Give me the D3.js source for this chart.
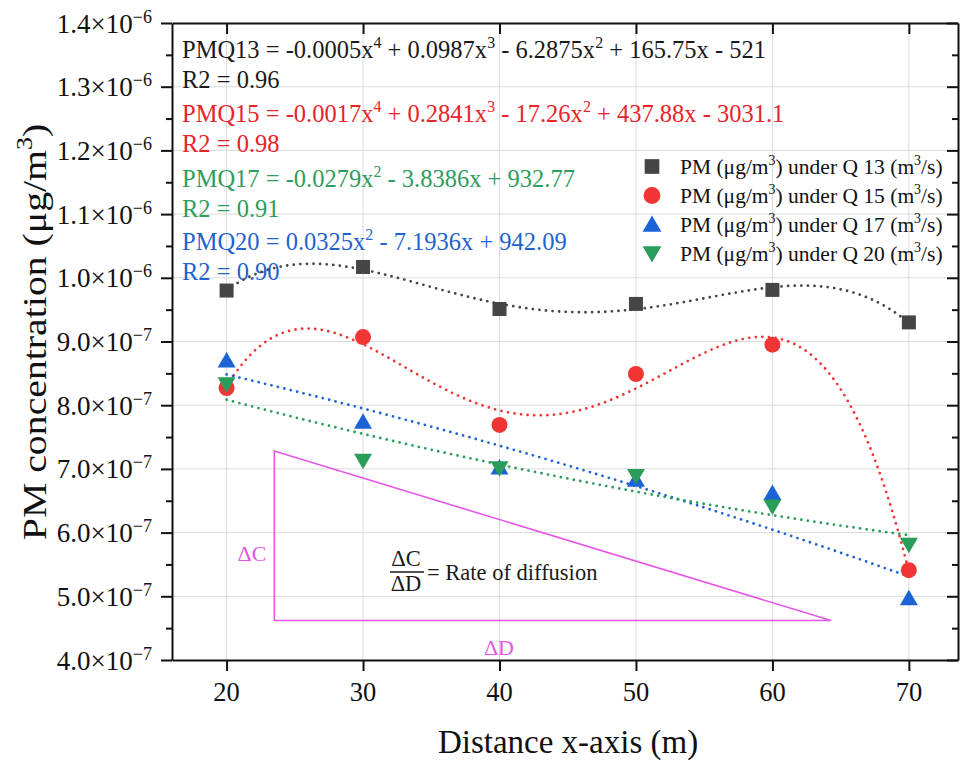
<!DOCTYPE html>
<html>
<head>
<meta charset="utf-8">
<script src="https://cdn.jsdelivr.net/npm/d3@7"></script>
<style>
  html, body { margin: 0; padding: 0; background: #ffffff; }
  svg { display: block; }
  text { font-family: "Liberation Serif", "Times New Roman", serif; }
</style>
</head>
<body>
<svg id="chart" width="960" height="762"></svg>
<script>
// ---------------- DATA ----------------
const distance = [20, 30, 40, 50, 60, 70];
const pmQ13 = [9.80e-7, 1.017e-6, 9.51e-7, 9.59e-7, 9.81e-7, 9.30e-7];
const pmQ15 = [8.27e-7, 9.07e-7, 7.69e-7, 8.49e-7, 8.95e-7, 5.41e-7];
const pmQ17 = [8.70e-7, 7.74e-7, 7.02e-7, 6.83e-7, 6.62e-7, 4.97e-7];
const pmQ20 = [8.33e-7, 7.13e-7, 7.01e-7, 6.89e-7, 6.41e-7, 5.81e-7];
const seriesLabels = [
  "PM (μg/m^3) under Q 13 (m^3/s)",
  "PM (μg/m^3) under Q 15 (m^3/s)",
  "PM (μg/m^3) under Q 17 (m^3/s)",
  "PM (μg/m^3) under Q 20 (m^3/s)"
];
const fitDegrees = [4, 4, 2, 2];
const equationTexts = [
  "PMQ13 = -0.0005x^4 + 0.0987x^3 - 6.2875x^2 + 165.75x - 521",
  "R2 = 0.96",
  "PMQ15 = -0.0017x^4 + 0.2841x^3 - 17.26x^2 + 437.88x - 3031.1",
  "R2 = 0.98",
  "PMQ17 = -0.0279x^2 - 3.8386x + 932.77",
  "R2 = 0.91",
  "PMQ20 = 0.0325x^2 - 7.1936x + 942.09",
  "R2 = 0.90"
];
const xTicks = [20, 30, 40, 50, 60, 70];
const yTicks = [4e-7, 5e-7, 6e-7, 7e-7, 8e-7, 9e-7, 1.0e-6, 1.1e-6, 1.2e-6, 1.3e-6, 1.4e-6];
const yTickLabels = ["4.0×10^−7", "5.0×10^−7", "6.0×10^−7", "7.0×10^−7", "8.0×10^−7",
  "9.0×10^−7", "1.0×10^−6", "1.1×10^−6", "1.2×10^−6", "1.3×10^−6", "1.4×10^−6"];
const xTitle = "Distance x-axis (m)";
const yTitle = "PM concentration (μg/m^3)";
// annotation triangle (data coordinates)
const triX = [23.5, 23.5, 64.3];
const triY = [7.28e-7, 4.62e-7, 4.62e-7];

// ---------------- STYLE ----------------
const markerColors = ["#454545", "#f03535", "#1c63d6", "#2a9d5a"];
const lineColors = ["#454545", "#f03535", "#1c63d6", "#2a9d5a"];
const eqColors = ["#1a1a1a", "#1a1a1a", "#e8232a", "#e8232a", "#2e9d5e", "#2e9d5e", "#1f63cf", "#1f63cf"];
const shapes = ["square", "circle", "up", "down"];
const magenta = "#e655e6";
const FONT = '"Liberation Serif", "Times New Roman", serif';

const svg = d3.select("#chart");
const L = 172, R = 958, T = 23, B = 660;
const x = d3.scaleLinear().domain([16, 73.6]).range([L, R]);
const y = d3.scaleLinear().domain([4e-7, 1.4e-6]).range([B, T]);

svg.append("rect").attr("width", 960).attr("height", 762).attr("fill", "#ffffff");

// rich text helper: "^" followed by one char = superscript
function rich(textSel, str, size) {
  textSel.attr("font-size", size).attr("font-family", FONT);
  const parts = str.split(/\^(.)/);
  let pendingDy = 0;
  parts.forEach((p, i) => {
    if (p === "") return;
    if (i % 2 === 1) {
      textSel.append("tspan").attr("font-size", size * 0.65).attr("dy", pendingDy - size * 0.4).text(p);
      pendingDy = size * 0.4;
    } else {
      const ts = textSel.append("tspan").attr("font-size", size).text(p);
      if (pendingDy) ts.attr("dy", pendingDy);
      pendingDy = 0;
    }
  });
}

// gridlines
const grid = svg.append("g").attr("stroke", "#dadada").attr("stroke-width", 1);
grid.selectAll("line.v").data(xTicks).join("line")
  .attr("x1", d => x(d)).attr("x2", d => x(d)).attr("y1", T).attr("y2", B);
grid.selectAll("line.h").data(yTicks.slice(1, -1)).join("line")
  .attr("x1", L).attr("x2", R).attr("y1", d => y(d)).attr("y2", d => y(d));

// equations
const eqG = svg.append("g");
const eqBase = [58, 88, 121.5, 151.5, 186.5, 216.5, 250, 280];
equationTexts.forEach((s, i) => {
  const t = eqG.append("text").attr("x", 182).attr("y", eqBase[i]).attr("fill", eqColors[i]);
  rich(t, s, 24.5);
});

// annotation triangle
const triPts = triX.map((d, i) => [x(d), y(triY[i])]);
svg.append("path").attr("d", d3.line()(triPts) + "Z")
  .attr("fill", "none").attr("stroke", magenta).attr("stroke-width", 1.6);
svg.append("text").attr("x", x(triX[0]) - 8).attr("y", 561).attr("text-anchor", "end")
  .attr("fill", magenta).attr("font-size", 22).attr("font-family", FONT).text("ΔC");
svg.append("text").attr("x", 499).attr("y", 655).attr("text-anchor", "middle")
  .attr("fill", magenta).attr("font-size", 22).attr("font-family", FONT).text("ΔD");
// rate of diffusion fraction
svg.append("text").attr("x", 406).attr("y", 566).attr("text-anchor", "middle")
  .attr("fill", "#1a1a1a").attr("font-size", 22.5).attr("font-family", FONT).text("ΔC");
svg.append("line").attr("x1", 390).attr("x2", 424).attr("y1", 572).attr("y2", 572)
  .attr("stroke", "#1a1a1a").attr("stroke-width", 1.3);
svg.append("text").attr("x", 406).attr("y", 591).attr("text-anchor", "middle")
  .attr("fill", "#1a1a1a").attr("font-size", 22.5).attr("font-family", FONT).text("ΔD");
svg.append("text").attr("x", 427).attr("y", 580)
  .attr("fill", "#1a1a1a").attr("font-size", 22.5).attr("font-family", FONT).text("= Rate of diffusion");

// polynomial least squares fit
function polyfit(xs, ys, deg) {
  const n = deg + 1;
  const tx = xs.map(v => (v - 45) / 25);
  const yy = ys.map(v => v * 1e7);
  const A = [], b = [];
  for (let i = 0; i < n; i++) {
    A.push([]);
    for (let j = 0; j < n; j++) A[i].push(d3.sum(tx, t => Math.pow(t, i + j)));
    b.push(d3.sum(tx.map((t, k) => yy[k] * Math.pow(t, i))));
  }
  for (let c = 0; c < n; c++) {
    let p = c;
    for (let r = c + 1; r < n; r++) if (Math.abs(A[r][c]) > Math.abs(A[p][c])) p = r;
    [A[c], A[p]] = [A[p], A[c]]; [b[c], b[p]] = [b[p], b[c]];
    for (let r = c + 1; r < n; r++) {
      const f = A[r][c] / A[c][c];
      for (let k = c; k < n; k++) A[r][k] -= f * A[c][k];
      b[r] -= f * b[c];
    }
  }
  const coef = new Array(n).fill(0);
  for (let r = n - 1; r >= 0; r--) {
    let s = b[r];
    for (let k = r + 1; k < n; k++) s -= A[r][k] * coef[k];
    coef[r] = s / A[r][r];
  }
  return v => {
    const t = (v - 45) / 25;
    return coef.reduce((acc, c, i) => acc + c * Math.pow(t, i), 0) * 1e-7;
  };
}

const allSeries = [pmQ13, pmQ15, pmQ17, pmQ20];
const xsFine = d3.range(20, 70.001, 0.25);
const lineGen = d3.line().x(d => x(d[0])).y(d => y(d[1])).curve(d3.curveLinear);
allSeries.forEach((vals, i) => {
  const f = polyfit(distance, vals, fitDegrees[i]);
  svg.append("path").datum(xsFine.map(v => [v, f(v)]))
    .attr("d", lineGen).attr("fill", "none").attr("stroke", lineColors[i])
    .attr("stroke-width", 2.8).attr("stroke-linecap", "round")
    .attr("stroke-dasharray", "0 6.6");
});

// markers
function marker(sel, shape, color, cx, cy, scale) {
  if (shape === "square") {
    const s = 14 * scale;
    sel.append("rect").attr("x", cx - s / 2).attr("y", cy - s / 2).attr("width", s).attr("height", s).attr("fill", color);
  } else if (shape === "circle") {
    sel.append("circle").attr("cx", cx).attr("cy", cy).attr("r", 8 * scale).attr("fill", color);
  } else {
    const w = 18 * scale, h = 15.5 * scale;
    const dir = shape === "up" ? 1 : -1;
    const pts = [[cx, cy - dir * h * 0.55], [cx - w / 2, cy + dir * h * 0.45], [cx + w / 2, cy + dir * h * 0.45]];
    sel.append("path").attr("d", d3.line()(pts) + "Z").attr("fill", color);
  }
}
const mG = svg.append("g");
allSeries.forEach((vals, i) => {
  vals.forEach((v, k) => marker(mG, shapes[i], markerColors[i], x(distance[k]), y(v), 1));
});

// axes
const axG = svg.append("g");
function styleAxis(g) {
  g.selectAll("path.domain").attr("stroke", "#111").attr("stroke-width", 2);
  g.selectAll(".tick line").attr("stroke", "#111").attr("stroke-width", 2);
  g.selectAll("text").remove();
}
axG.append("g").attr("transform", `translate(0,${B})`)
  .call(d3.axisBottom(x).tickValues(xTicks).tickSize(11).tickSizeOuter(0).tickFormat("")).call(styleAxis);
axG.append("g").attr("transform", `translate(0,${T})`)
  .call(d3.axisTop(x).tickValues(xTicks).tickSize(-11).tickSizeOuter(0).tickFormat("")).call(styleAxis);
axG.append("g").attr("transform", `translate(${L},0)`)
  .call(d3.axisLeft(y).tickValues(yTicks).tickSize(11).tickSizeOuter(0).tickFormat("")).call(styleAxis);
axG.append("g").attr("transform", `translate(${R},0)`)
  .call(d3.axisRight(y).tickValues(yTicks).tickSize(-11).tickSizeOuter(0).tickFormat("")).call(styleAxis);
const yMinor = yTicks.slice(0, -1).map(v => v + 5e-8);
axG.append("g").attr("transform", `translate(${L},0)`)
  .call(d3.axisLeft(y).tickValues(yMinor).tickSize(6).tickSizeOuter(0).tickFormat("")).call(styleAxis)
  .select("path.domain").remove();
axG.append("g").attr("transform", `translate(${R},0)`)
  .call(d3.axisRight(y).tickValues(yMinor).tickSize(-6).tickSizeOuter(0).tickFormat("")).call(styleAxis)
  .select("path.domain").remove();

// tick labels
svg.append("g").selectAll("text").data(xTicks).join("text")
  .attr("x", d => x(d)).attr("y", 701).attr("text-anchor", "middle")
  .attr("font-size", 26.5).attr("font-family", FONT).attr("fill", "#111").text(d => d);
const yl = svg.append("g");
yTicks.forEach((v, i) => {
  const [m, e] = yTickLabels[i].split("^");
  const t = yl.append("text").attr("x", L - 20).attr("y", y(v) + 9.5).attr("text-anchor", "end")
    .attr("fill", "#111").attr("font-size", 27).attr("font-family", FONT);
  t.append("tspan").attr("font-size", 27).text(m);
  t.append("tspan").attr("font-size", 18).attr("dy", -10).text(e);
});

// axis titles
svg.append("text").attr("x", 568).attr("y", 753).attr("text-anchor", "middle")
  .attr("font-size", 33).attr("font-family", FONT).attr("fill", "#111").text(xTitle);
const yt = svg.append("text").attr("transform", `translate(46,332) rotate(-90) scale(1.17,1)`)
  .attr("text-anchor", "middle").attr("fill", "#111");
rich(yt, yTitle, 34);

// legend
const lg = svg.append("g");
seriesLabels.forEach((s, i) => {
  const cy = 166.5 + i * 29;
  marker(lg, shapes[i], markerColors[i], 652, cy, 1.05);
  const t = lg.append("text").attr("x", 680).attr("y", cy + 7.5).attr("fill", "#111");
  rich(t, s, 21.5);
});
</script>
</body>
</html>
